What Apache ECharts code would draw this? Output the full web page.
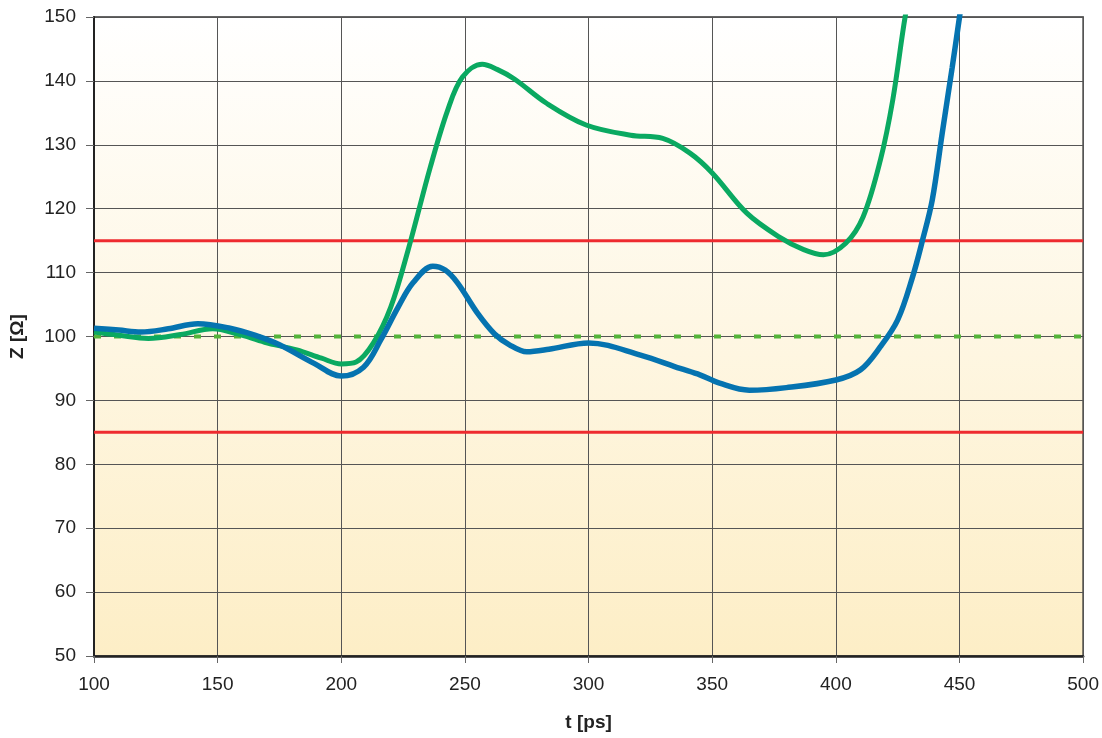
<!DOCTYPE html>
<html>
<head>
<meta charset="utf-8">
<script src="https://cdn.jsdelivr.net/npm/echarts@6/dist/echarts.min.js"></script>
<style>html,body{margin:0;padding:0;background:#fff}#c{width:1102px;height:738px}</style>
</head>
<body>
<div id="c"></div>
<script>
const xTicks = [100,150,200,250,300,350,400,450,500];
const yTicks = [50,60,70,80,90,100,110,120,130,140,150];
const blueT = [100,110,119,130,142,155,165,175,189,200,209,216,223,229,237,242,247,255,262,268,275,284,300,321,337,345,353,365,380,400,410,418,425,431,435,439,443,447,450,453];
const blueZ = [101.3,101.0,100.7,101.2,102.0,101.3,100.2,98.7,95.8,93.8,95.2,99.5,104.6,108.4,111.0,110.4,108.4,103.7,100.4,98.7,97.6,98.0,99.0,97.1,95.0,94.0,92.7,91.6,92.0,93.2,94.8,98.4,102.6,109.3,115.0,121.4,131.8,142.0,150.0,158];
const greenT = [100,110,122,135,148,158,169,182,192,200,206,213,220,227,236,243,249,257,263,270,283,299,317,330,341,350,364,377,387,395,404,411,418,423,428,432];
const greenZ = [100.7,100.2,99.7,100.3,101.2,100.4,99.1,97.9,96.6,95.7,96.0,99.0,104.6,113.5,126.5,135.4,140.6,142.6,141.8,140.3,136.5,133.1,131.5,131.0,128.7,125.6,119.3,115.6,113.6,112.8,114.6,118.7,127.6,137.0,150.0,158];
const upperLimit = 115, lowerLimit = 85, nominal = 100;

const pair = (t, z) => t.map((v, i) => [v, z[i]]);
const lbl = {fontFamily: 'Liberation Sans', fontSize: 19, color: '#222'};
const chart = echarts.init(document.getElementById('c'), null, {renderer: 'canvas'});
chart.setOption({
  animation: false,
  grid: {
    left: 93, right: 18, top: 17, bottom: 82,
    show: true,
    borderColor: '#333', borderWidth: 1.5,
    backgroundColor: new echarts.graphic.LinearGradient(0, 0, 0, 1, [
      {offset: 0, color: '#ffffff'},
      {offset: 1, color: '#fdeec6'}
    ])
  },
  xAxis: {
    type: 'value', min: 100, max: 500, interval: 50,
    name: 't [ps]', nameLocation: 'middle', nameGap: 57,
    nameTextStyle: {fontFamily: 'Liberation Sans', fontSize: 19, fontWeight: 'bold', color: '#222'},
    axisLine: {show: true, lineStyle: {color: '#222', width: 2.5}},
    axisTick: {show: true, length: 7, lineStyle: {color: '#666'}},
    axisLabel: Object.assign({margin: 19, formatter: v => xTicks.includes(v) ? String(v) : ''}, lbl),
    splitLine: {show: true, lineStyle: {color: '#555', width: 1}}
  },
  yAxis: {
    type: 'value', min: 50, max: 150, interval: 10,
    name: 'Z [Ω]', nameLocation: 'middle', nameGap: 67, nameRotate: 90,
    nameTextStyle: {fontFamily: 'Liberation Sans', fontSize: 19, fontWeight: 'bold', color: '#222'},
    axisLine: {show: true, lineStyle: {color: '#222', width: 2}},
    axisTick: {show: true, length: 8, lineStyle: {color: '#666'}},
    axisLabel: Object.assign({margin: 18, formatter: v => yTicks.includes(v) ? String(v) : ''}, lbl),
    splitLine: {show: true, lineStyle: {color: '#555', width: 1}}
  },
  series: [
    {type: 'line', data: [[100, upperLimit], [500, upperLimit]], symbol: 'none', lineStyle: {color: '#ee2b2f', width: 3}, z: 3},
    {type: 'line', data: [[100, lowerLimit], [500, lowerLimit]], symbol: 'none', lineStyle: {color: '#ee2b2f', width: 3}, z: 3},
    {type: 'line', data: [[100, nominal], [500, nominal]], symbol: 'none', lineStyle: {color: '#55b43a', width: 4, type: [7, 13]}, z: 3},
    {type: 'line', data: pair(greenT, greenZ), symbol: 'none', smooth: 0.35, clip: true, lineStyle: {color: '#0aa961', width: 5}, z: 4},
    {type: 'line', data: pair(blueT, blueZ), symbol: 'none', smooth: 0.35, clip: true, lineStyle: {color: '#0573b0', width: 5.5}, z: 5}
  ]
});
</script>
</body>
</html>
